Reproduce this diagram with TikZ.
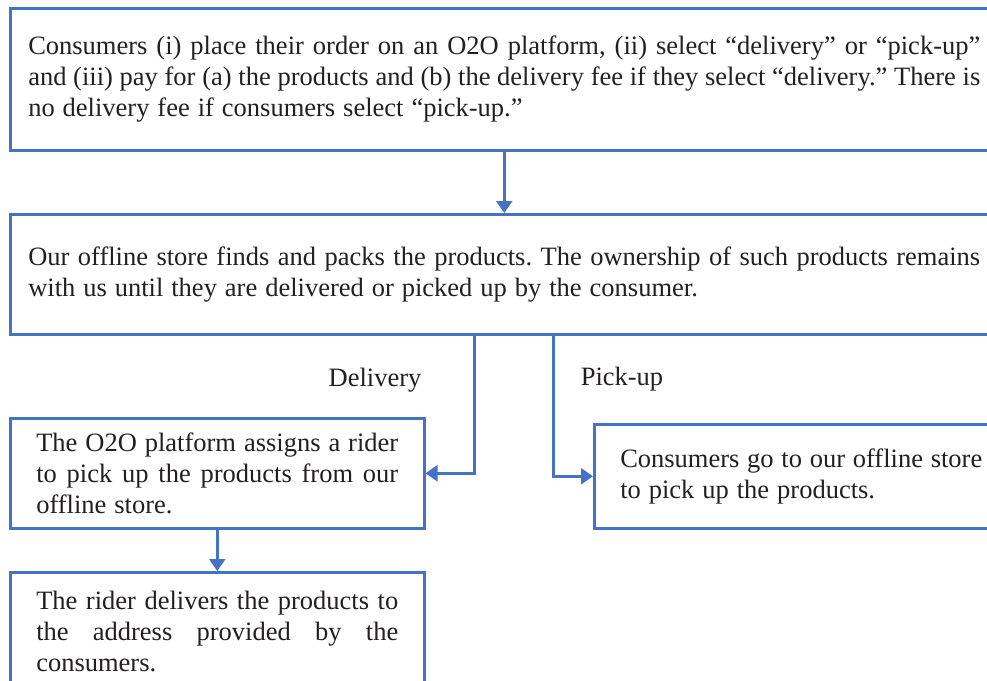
\documentclass[tikz,border=0pt]{standalone}
\usepackage{fontspec}
\setmainfont{Liberation Serif}
\usetikzlibrary{arrows.meta}
\definecolor{flowblue}{RGB}{68,114,196}
\definecolor{ink}{RGB}{35,31,32}
\newcommand\flowfont{\fontsize{26.5}{31}\selectfont
  \spaceskip=0.3em plus 0.3em minus 0.05em\relax}
\tikzset {>={Triangle[length=12pt,width=16pt]}}
\tikzset{
  wide/.style={draw=flowblue,text=ink,anchor=north west,align=justify,
    text width=952pt,inner xsep=18pt,inner ysep=4pt},
  narrow/.style={draw=flowblue,text=ink,anchor=north west,align=justify,
    text width=362pt,inner xsep=26pt,inner ysep=4pt},
  branch/.style={text=ink}}
\frenchspacing
\hyphenpenalty=10000

\begin{document}
\begin{tikzpicture}[x=1pt,y=-1pt,line width=2.5pt,font=\flowfont]
\clip (0,0) rectangle (987,680);
\node[wide,minimum height=142pt] (order) at (9,7)
  {Consumers (i) place their order on an O2O platform, (ii) select “delivery” or “pick-up”\linebreak
   and (iii) pay for (a) the products and (b) the delivery fee if they select “delivery.” There is\linebreak
   no delivery fee if consumers select “pick-up.”};
\node[wide,minimum height=120pt] (store) at (9,213)
  {Our offline store finds and packs the products. The ownership of such products remains\linebreak
   with us until they are delivered or picked up by the consumer.};
\node[narrow,minimum height=110pt] (assign) at (9,417)
  {The O2O platform assigns a rider\linebreak
   to pick up the products from our\linebreak
   offline store.};
\node[narrow,minimum height=104pt] (pickup) at (593,423)
  {Consumers go to our offline store\linebreak
   to pick up the products.};
\node[narrow,minimum height=118pt] (deliver) at (9,571)
  {The rider delivers the products to\linebreak
   the address provided by the\linebreak
   consumers.};
\node[branch] (dlabel) at (375,380) {Delivery};
\node[branch] (plabel) at (622,379) {Pick-up};
\draw[flowblue,->] (order) -- (store);
\draw[flowblue,->] ([xshift=-30pt]store.south) |- (assign);
\draw[flowblue,->] ([xshift=49pt]store.south) |- (pickup);
\draw[flowblue,->] (assign) -- (deliver);
\end{tikzpicture}
\end{document}
